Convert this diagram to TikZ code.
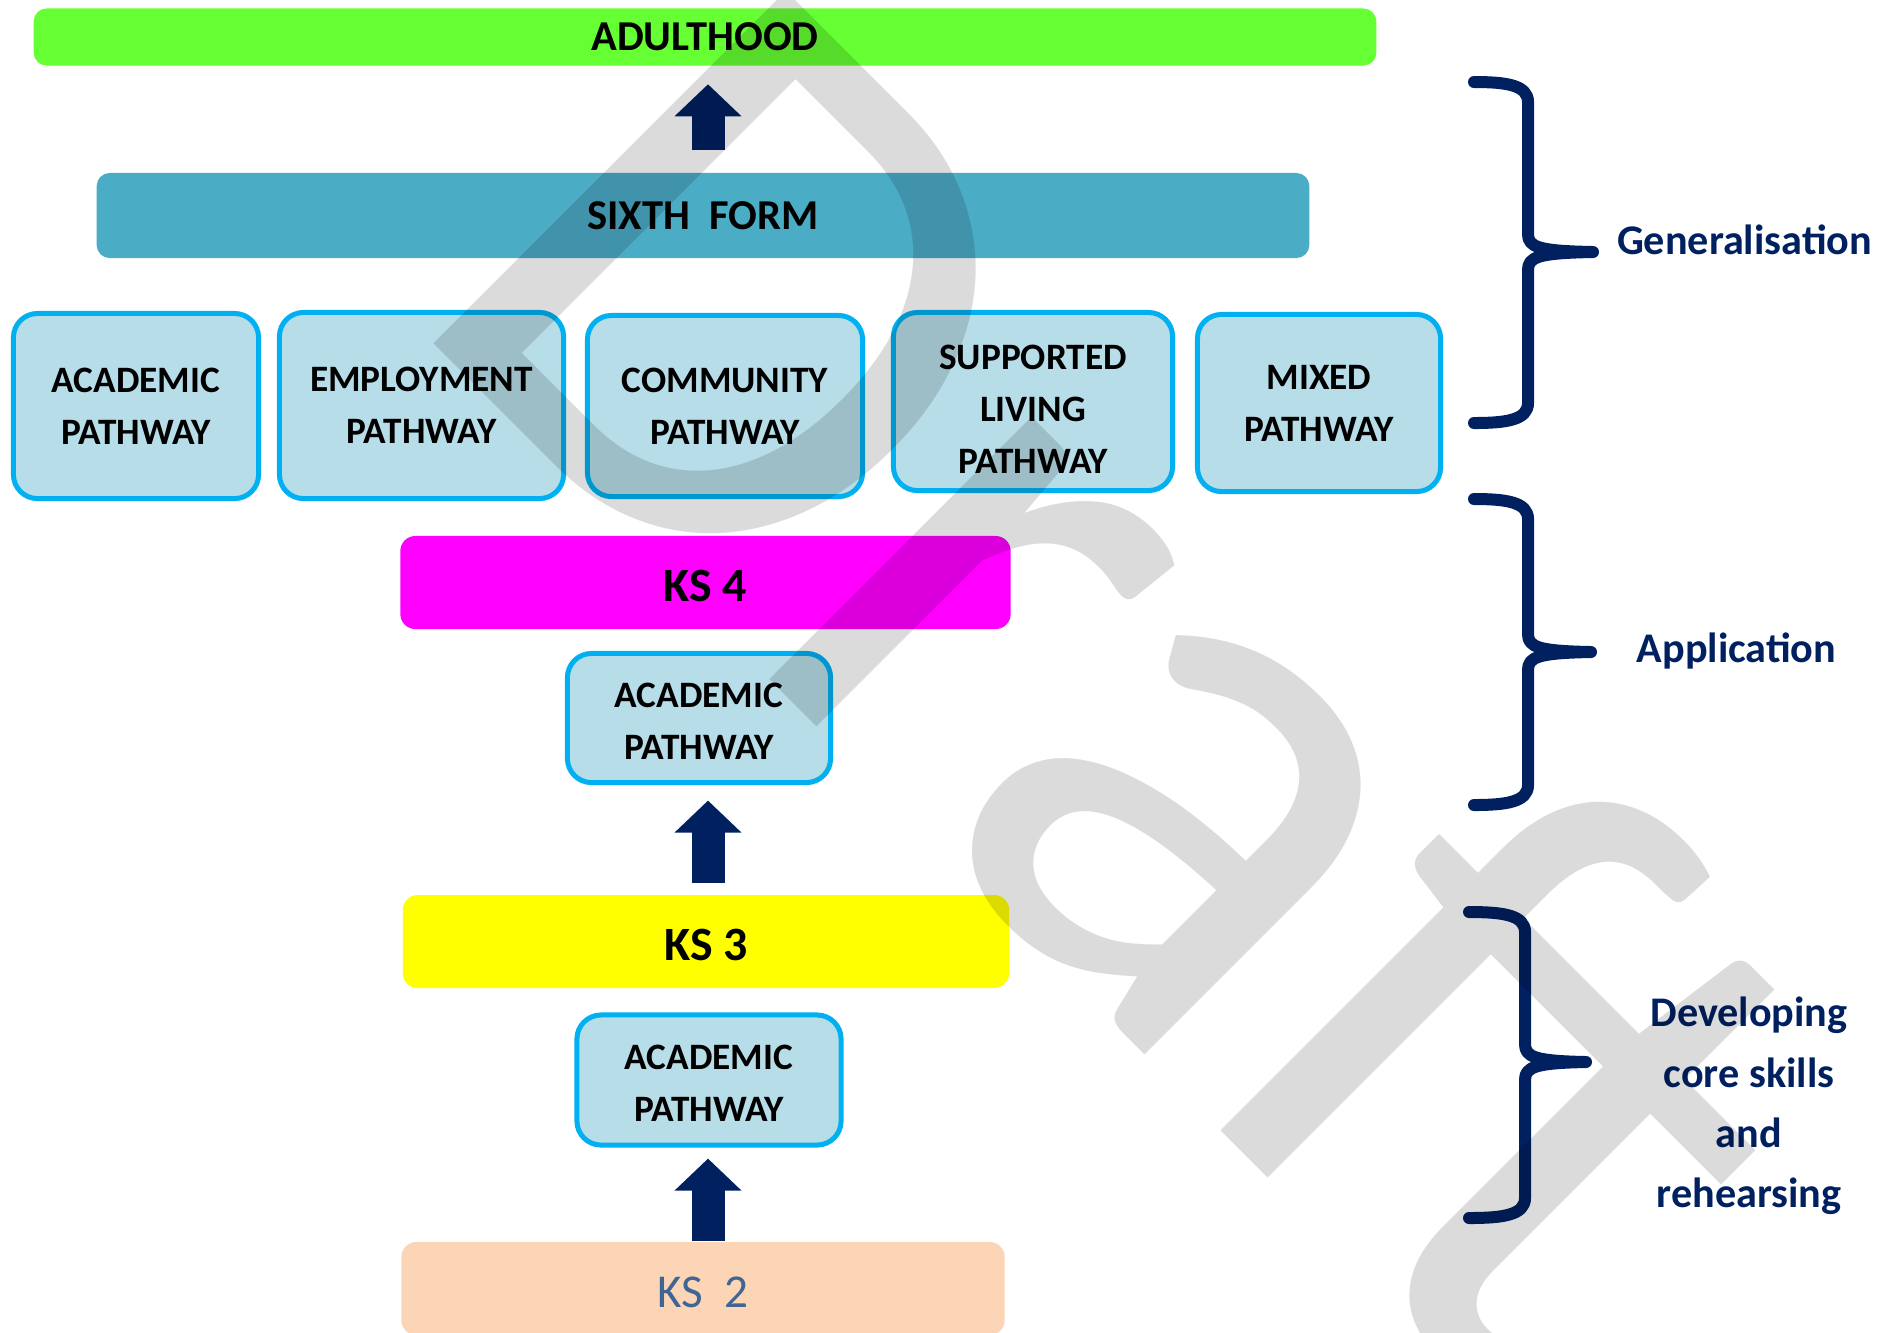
\documentclass[tikz,border=0pt]{standalone}
\usepackage{fontspec}
\setmainfont{Carlito}
\usepackage{tikz}
\usetikzlibrary{arrows.meta, positioning, calc}

\definecolor{navy}{HTML}{002060}
\definecolor{adultgreen}{HTML}{66FF33}
\definecolor{sixthblue}{HTML}{4BACC6}
\definecolor{pathfill}{HTML}{B7DDE8}
\definecolor{pathline}{HTML}{00B0F0}
\definecolor{ksfour}{HTML}{FF00FF}
\definecolor{ksthree}{HTML}{FFFF00}
\definecolor{kstwo}{HTML}{FBD5B5}
\definecolor{kstwotext}{HTML}{3F6595}

\begin{document}
\begin{tikzpicture}[x=0.01cm, y=-0.01cm,
    bar/.style={rounded corners=0.13cm, inner sep=0pt, font=\bfseries\fontsize{12.1}{14}\selectfont},
    ksbar/.style={bar, rounded corners=0.15cm, minimum height=0.93cm, text height=10.9pt, text depth=0pt,
        font=\bfseries\fontsize{13.6}{15}\selectfont},
    pathbox/.style={draw=pathline, fill=pathfill, line width=0.05cm, rounded corners=0.24cm,
        align=center, inner sep=0pt, font=\bfseries\fontsize{10.6}{14.8}\selectfont},
    uparrow/.style={draw=navy, line width=0.33cm,
        -{Triangle[length=0.32cm, width=0.65cm]}},
    stage/.style={draw=navy, line width=0.12cm, line cap=round, line join=round},
    stagelabel/.style={text=navy, align=center, inner sep=0pt, font=\bfseries\fontsize{12}{17.2}\selectfont},
    wmark/.style={text=black, text opacity=0.14, inner sep=0pt, font=\fontsize{221}{221}\selectfont}
]
\useasboundingbox (0,0) rectangle (1882,1332);

\node[bar, fill=adultgreen, minimum width=13.42cm, minimum height=0.57cm] (adult) at (705,37) {ADULTHOOD};
\node[bar, fill=sixthblue, minimum width=12.12cm, minimum height=0.85cm] (sixth) at (703,215.5) {SIXTH\ \ FORM};

\node[pathbox, minimum width=2.45cm, minimum height=1.85cm] (academic) at (136,406) {ACADEMIC\\PATHWAY};
\node[pathbox, minimum width=2.84cm, minimum height=1.86cm] (employment) at (421.5,405.5) {EMPLOYMENT\\PATHWAY};
\node[pathbox, minimum width=2.75cm, minimum height=1.81cm] (community) at (725,406) {COMMUNITY\\PATHWAY};
\node[pathbox, minimum width=2.79cm, minimum height=1.78cm] (supported) at (1033,401.5) {\rule{0pt}{11.3pt}SUPPORTED\\LIVING\\PATHWAY};
\node[pathbox, minimum width=2.43cm, minimum height=1.77cm] (mixed) at (1319,403) {MIXED\\PATHWAY};

\node[ksbar, fill=ksfour, minimum width=6.10cm] (ksfour) at (705.5,582.5) {KS 4};
\node[pathbox, minimum width=2.63cm, minimum height=1.29cm] (acadfour) at (699,718) {\rule{0pt}{8.7pt}ACADEMIC\\PATHWAY};
\node[ksbar, fill=ksthree, minimum width=6.06cm] (ksthree) at (706,941.5) {KS 3};
\node[pathbox, minimum width=2.64cm, minimum height=1.30cm] (acadthree) at (709,1080) {\rule{0pt}{8.7pt}ACADEMIC\\PATHWAY};
\node[ksbar, fill=kstwo, minimum width=6.03cm, text=kstwotext, font=\fontsize{13.4}{15}\selectfont] (kstwo) at (703,1288.5) {KS\ \ 2};

\draw[uparrow, shorten <=0.22cm, shorten >=0.18cm] ([xshift=0.05cm]sixth.north) -- ([xshift=0.05cm]sixth.north |- adult.south);
\draw[uparrow, shorten <=0.11cm, shorten >=0.155cm] ([xshift=0.02cm]ksthree.north) -- ([xshift=0.02cm]ksthree.north |- acadfour.south);
\draw[uparrow, shorten >=0.11cm] ([xshift=0.05cm]kstwo.north) -- ([xshift=0.05cm]kstwo.north |- acadthree.south);

\foreach \ta/\mb/\bb/\lx/\sx/\tx in {82/252/423/1474/1528/1593, 499/652/805/1474/1528/1591, 912/1062/1218/1469/1525/1586} {
    \draw[stage] (\lx,\ta) .. controls (\sx-22,\ta) and (\sx,\ta+3) .. (\sx,\ta+20) -- (\sx,\mb-18)
        .. controls (\sx,\mb-5) and (\sx+10,\mb-1) .. (\tx,\mb)
        .. controls (\sx+10,\mb+1) and (\sx,\mb+5) .. (\sx,\mb+18) -- (\sx,\bb-20)
        .. controls (\sx,\bb-3) and (\sx-22,\bb) .. (\lx,\bb);
}

\node[stagelabel, anchor=base] (generalisation) at (1744.5,254) {Generalisation};
\node[stagelabel, anchor=base] (application) at (1736.5,662) {Application};
\node[stagelabel] (developing) at (1749,1106) {Developing\\core skills\\and\\rehearsing};

\node[wmark, rotate=-45, anchor=base west] (draft) at (396,306) {Draft};
\end{tikzpicture}
\end{document}
